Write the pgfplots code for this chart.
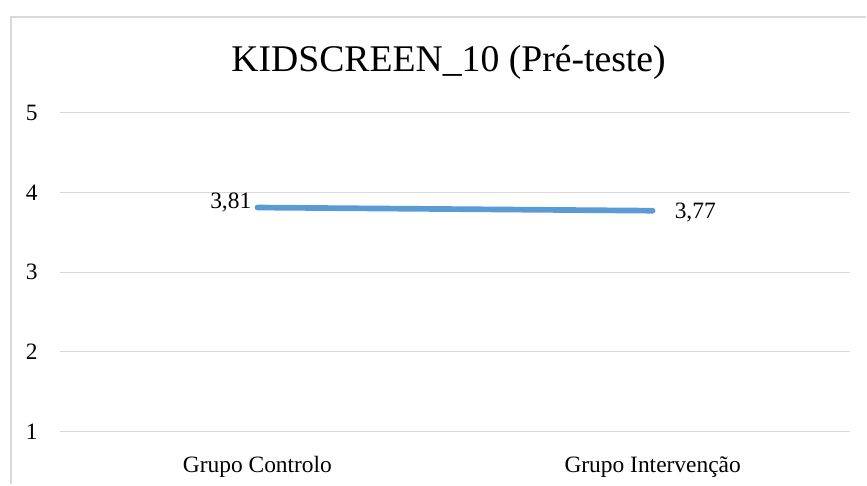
\documentclass[border=0pt]{standalone}
\usepackage{pgfplots}
\pgfplotsset{compat=1.18}
\usepackage{fontspec}
\setmainfont{Liberation Serif}
\definecolor{serieblue}{HTML}{5B9BD5}
\definecolor{gridgray}{HTML}{D9D9D9}
\newcommand{\ticksize}{\fontsize{23.5bp}{28bp}\selectfont}
\begin{document}
\begin{tikzpicture}[x=1bp,y=1bp]
  % chart frame (left and top edges)
  \draw[gridgray, line width=1.6bp] (11,-2) -- (11,467) -- (869,467);
  % title
  \node[anchor=base, inner sep=0] at (450,412)
    {\fontsize{37.8bp}{44bp}\selectfont KIDSCREEN\_10 (Pré-teste)};
  \begin{axis}[
    at={(60bp,51bp)}, anchor=south west,
    scale only axis, width=793bp, height=320bp,
    xmin=-0.5, xmax=1.5, ymin=1, ymax=5,
    xtick={0,1},
    xticklabels={Grupo Controlo, Grupo Intervenção},
    ytick={1,2,3,4,5},
    ymajorgrids,
    grid style={gridgray, line width=1.2bp},
    axis line style={draw=none},
    major tick length=0pt,
    /pgf/number format/assume math mode=true,
    tick label style={font=\ticksize},
    yticklabel style={anchor=east, inner sep=0pt, xshift=-22bp},
    xticklabel style={anchor=base, inner sep=0pt, yshift=-41bp},
    clip=false,
  ]
    \addplot[serieblue, line width=5.7bp, line cap=round] coordinates {(0,3.81) (1,3.77)};
    % value labels
    \addplot[draw=none, mark=none, point meta=y,
      nodes near coords,
      nodes near coords style={font=\ticksize, anchor=east, inner sep=0pt,
        xshift=-6bp, yshift=5bp,
        /pgf/number format/.cd, fixed, fixed zerofill, precision=2, use comma, assume math mode=true}]
      coordinates {(0,3.81)};
    \addplot[draw=none, mark=none, point meta=y,
      nodes near coords,
      nodes near coords style={font=\ticksize, anchor=west, inner sep=0pt,
        xshift=22bp, yshift=-2bp,
        /pgf/number format/.cd, fixed, fixed zerofill, precision=2, use comma, assume math mode=true}]
      coordinates {(1,3.77)};
  \end{axis}
  \path[use as bounding box] (0,0) rectangle (867,484);
\end{tikzpicture}
\end{document}
